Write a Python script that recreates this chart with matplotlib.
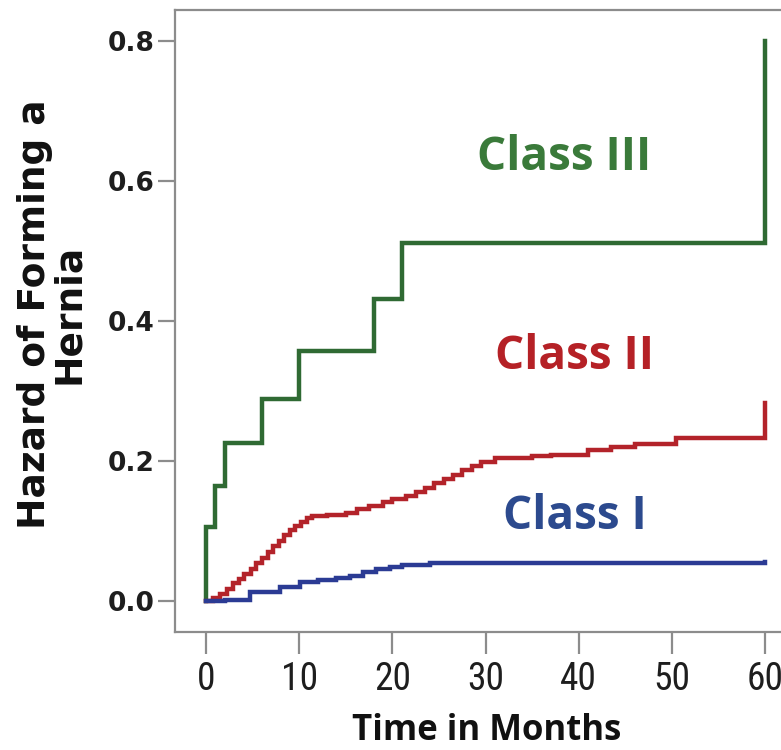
import matplotlib
matplotlib.use("Agg")
import matplotlib.pyplot as plt
from matplotlib import font_manager

# Cumulative hazard step curves by hernia risk class
class3_months = [0, 0, 1, 2, 6, 10, 18, 21, 60]
class3_hazard = [0, 0.106, 0.164, 0.226, 0.288, 0.357, 0.432, 0.512, 0.80]

class2_months = [0, 0.8, 1.5, 2.2, 2.9, 3.5, 4.1, 4.8, 5.4, 6.0, 6.6, 7.2, 7.8, 8.4,
                 9.0, 9.6, 10.2, 10.8, 11.4, 13, 15, 16.2, 17.5, 19, 20, 21.5, 22.5,
                 23.5, 24.5, 25.5, 26.5, 27.5, 28.5, 29.5, 31, 35, 37, 41, 43.5, 46,
                 50.4, 60]
class2_hazard = [0, 0.004, 0.010, 0.017, 0.025, 0.032, 0.039, 0.046, 0.054, 0.062,
                 0.070, 0.078, 0.086, 0.094, 0.101, 0.107, 0.113, 0.118, 0.121,
                 0.123, 0.126, 0.131, 0.135, 0.142, 0.146, 0.150, 0.155, 0.162,
                 0.168, 0.174, 0.180, 0.187, 0.193, 0.198, 0.204, 0.207, 0.209,
                 0.216, 0.220, 0.224, 0.233, 0.283]

class1_months = [0, 2, 4.7, 7.9, 10.1, 12, 14, 15.5, 16.8, 18.2, 19.7, 21, 24, 60]
class1_hazard = [0, 0.002, 0.013, 0.020, 0.027, 0.030, 0.033, 0.036, 0.041, 0.045,
                 0.049, 0.052, 0.054, 0.056]

x_ticks = [0, 10, 20, 30, 40, 50, 60]
y_ticks = [0.0, 0.2, 0.4, 0.6, 0.8]

names = {f.name for f in font_manager.fontManager.ttflist}
narrow_choices = ["Liberation Sans Narrow", "Roboto Condensed", "Open Sans Condensed",
                  "Noto Sans Condensed", "DejaVu Sans Condensed"]
narrow = next((n for n in narrow_choices if n in names), None)
if narrow:
    tick_font, tick_size = narrow, 27
else:
    tick_font, tick_size = "Liberation Sans", 24

W, H = 781, 750
fig = plt.figure(figsize=(W / 100, H / 100), dpi=100)
fig.patch.set_facecolor("white")
ax = fig.add_axes([175 / W, (H - 632) / H, (W - 175) / W, (632 - 10) / H])

ax.step(class3_months, class3_hazard, where="post", color="#2f6a33", lw=3.2,
        solid_joinstyle="miter")
ax.step(class2_months, class2_hazard, where="post", color="#b3232a", lw=3.2,
        solid_joinstyle="miter")
ax.step(class1_months, class1_hazard, where="post", color="#2b3b94", lw=3.2,
        solid_joinstyle="miter")

ax.set_xlim(-3.33, 61.7)
ax.set_ylim(-0.0443, 0.8443)
ax.set_xticks(x_ticks)
ax.set_yticks(y_ticks)
ax.set_xticklabels([str(t) for t in x_ticks], fontfamily=tick_font, fontsize=tick_size)
ax.set_yticklabels([f"{t:.1f}" for t in y_ticks], fontfamily="DejaVu Sans",
                   fontweight="bold", fontsize=19)

spine_col = "#8c8c8c"
for side in ("left", "bottom", "top"):
    ax.spines[side].set_color(spine_col)
    ax.spines[side].set_linewidth(1.6)
ax.spines["right"].set_visible(False)
ax.tick_params(axis="x", length=16, width=1.6, color=spine_col, pad=5, labelcolor="#1e1e1e")
ax.tick_params(axis="y", length=12, width=1.6, color=spine_col, pad=3, labelcolor="#1e1e1e")

label_font = dict(fontfamily="Open Sans", fontweight="bold", fontsize=33,
                  ha="center", va="baseline")
ax.text(38.4, 0.616, "Class III", color="#3a7a3a", **label_font)
ax.text(39.5, 0.331, "Class II", color="#b52126", **label_font)
ax.text(39.6, 0.103, "Class I", color="#2c4a8e", **label_font)

fig.text(487 / W, (H - 740) / H, "Time in Months", fontfamily="Open Sans",
         fontweight="bold", fontsize=25, ha="center", va="baseline", color="#111111")
fig.text(52 / W, 1 - 314 / H, "Hazard of Forming a\nHernia", rotation=90,
         fontfamily="DejaVu Sans", fontweight="bold", fontsize=27, ha="center",
         va="center", multialignment="center", linespacing=0.95, color="#111111")

fig.savefig("out.png", dpi=100, facecolor="white")
